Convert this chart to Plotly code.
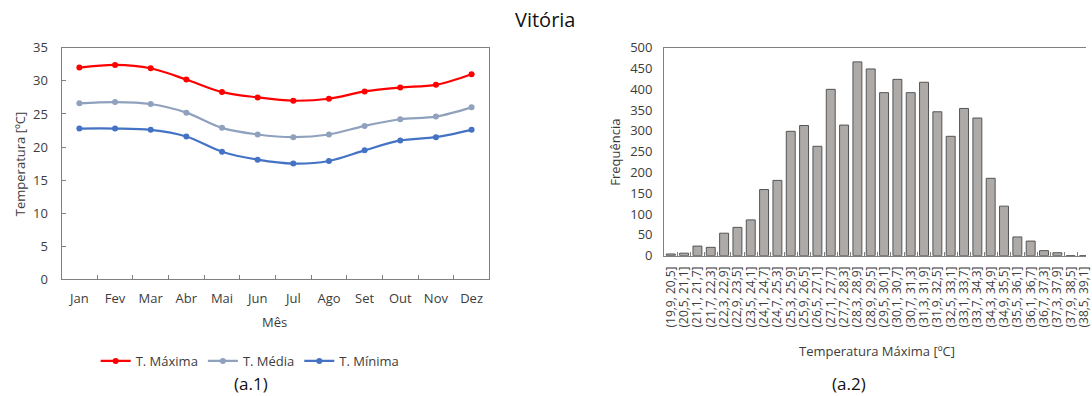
import plotly.graph_objects as go

# Monthly temperatures (ºC)
meses = ["Jan", "Fev", "Mar", "Abr", "Mai", "Jun", "Jul", "Ago", "Set", "Out", "Nov", "Dez"]
t_maxima = [32.0, 32.4, 31.9, 30.2, 28.3, 27.5, 27.0, 27.3, 28.4, 29.0, 29.4, 31.0]
t_media = [26.6, 26.8, 26.5, 25.2, 22.9, 21.9, 21.5, 21.9, 23.2, 24.2, 24.6, 26.0]
t_minima = [22.8, 22.8, 22.6, 21.6, 19.3, 18.1, 17.5, 17.9, 19.5, 21.0, 21.5, 22.6]

# Histogram of daily maximum temperature
classes = [
    "(19,9, 20,5]", "(20,5, 21,1]", "(21,1, 21,7]", "(21,7, 22,3]", "(22,3, 22,9]",
    "(22,9, 23,5]", "(23,5, 24,1]", "(24,1, 24,7]", "(24,7, 25,3]", "(25,3, 25,9]",
    "(25,9, 26,5]", "(26,5, 27,1]", "(27,1, 27,7]", "(27,7, 28,3]", "(28,3, 28,9]",
    "(28,9, 29,5]", "(29,5, 30,1]", "(30,1, 30,7]", "(30,7, 31,3]", "(31,3, 31,9]",
    "(31,9, 32,5]", "(32,5, 33,1]", "(33,1, 33,7]", "(33,7, 34,3]", "(34,3, 34,9]",
    "(34,9, 35,5]", "(35,5, 36,1]", "(36,1, 36,7]", "(36,7, 37,3]", "(37,3, 37,9]",
    "(37,9, 38,5]", "(38,5, 39,1]",
]
frequencia = [4, 6, 23, 20, 54, 68, 86, 159, 181, 299, 313, 263, 400, 314, 466,
              449, 392, 424, 392, 417, 346, 287, 354, 331, 186, 119, 45, 35, 12, 7,
              0, 0]

FONT = "Open Sans"
TXT = "#3c3c3c"
AX = "#808080"
W, H = 1092, 396


def px(x):
    return x / W


def py(y):
    # page pixel (from top) -> paper fraction, allowing for the 8px page margin
    # and the vertical fit of the page into the window
    return 1 - (y / 0.961 - 8) / H


fig = go.Figure()

series = [
    ("T. Máxima", t_maxima, "#ff0000"),
    ("T. Média", t_media, "#8fa1bd"),
    ("T. Mínima", t_minima, "#4472c4"),
]
for nome, vals, cor in series:
    fig.add_trace(go.Scatter(
        x=meses, y=vals, name=nome, mode="lines+markers",
        line=dict(color=cor, width=2.2, shape="spline", smoothing=0.9),
        marker=dict(color=cor, size=6),
        xaxis="x", yaxis="y",
    ))

fig.add_trace(go.Bar(
    x=classes, y=frequencia, showlegend=False,
    marker=dict(color="#aeaaa8", line=dict(color="#555555", width=1)),
    xaxis="x2", yaxis="y2",
))

axis_common = dict(showgrid=False, zeroline=False, showline=True, linecolor=AX,
                   linewidth=1, tickfont=dict(family=FONT, size=13, color=TXT))

fig.update_layout(
    width=W, height=H,
    margin=dict(l=0, r=0, t=0, b=0),
    paper_bgcolor="white", plot_bgcolor="white",
    bargap=0.33,
    font=dict(family=FONT, color=TXT),
    xaxis=dict(domain=[px(60), px(491)], anchor="y", range=[-0.5, 11.5],
               mirror=True, ticks="inside", tickson="boundaries", ticklen=4,
               tickcolor=AX, ticklabelstandoff=7, **axis_common),
    yaxis=dict(domain=[py(280), py(46.7)], anchor="x", range=[0, 35], dtick=5,
               mirror=True, ticks="inside", ticklen=4, tickcolor=AX,
               ticklabelstandoff=10, **axis_common),
    xaxis2=dict(domain=[px(667), 1.0], anchor="y2", range=[-0.5, 31.15],
                mirror=True, ticks="inside", tickson="boundaries", ticklen=4,
                tickcolor=AX, tickangle=-90, ticklabelstandoff=5,
                tickmode="linear", tick0=0, dtick=1,
                **{**axis_common, "tickfont": dict(family=FONT, size=12, color=TXT)}),
    yaxis2=dict(domain=[py(256), py(46.7)], anchor="x2", range=[0, 500], dtick=50,
                ticks="", ticklabelstandoff=8, **axis_common),
    legend=dict(orientation="h", x=px(250), xanchor="center", y=py(362),
                yanchor="middle", font=dict(family=FONT, size=13, color=TXT),
                itemwidth=30, bgcolor="rgba(0,0,0,0)"),
)

notes = [
    ("Vitória", 547, 18, 20, 0, "#111111"),
    ("Temperatura [ºC]", 18, 164, 13, -90, TXT),
    ("Mês", 275, 323, 13, 0, TXT),
    ("Frequência", 618, 152, 13, -90, TXT),
    ("Temperatura Máxima [ºC]", 881, 352, 13, 0, TXT),
    ("(a.1)", 251, 385, 17, 0, "#111111"),
    ("(a.2)", 853, 385, 17, 0, "#111111"),
]
for txt, x, y, size, ang, cor in notes:
    fig.add_annotation(text=txt, x=px(x), y=py(y), xref="paper", yref="paper",
                       xanchor="center", yanchor="middle", showarrow=False,
                       textangle=ang, font=dict(family=FONT, size=size, color=cor))

fig.write_html("out.html")
